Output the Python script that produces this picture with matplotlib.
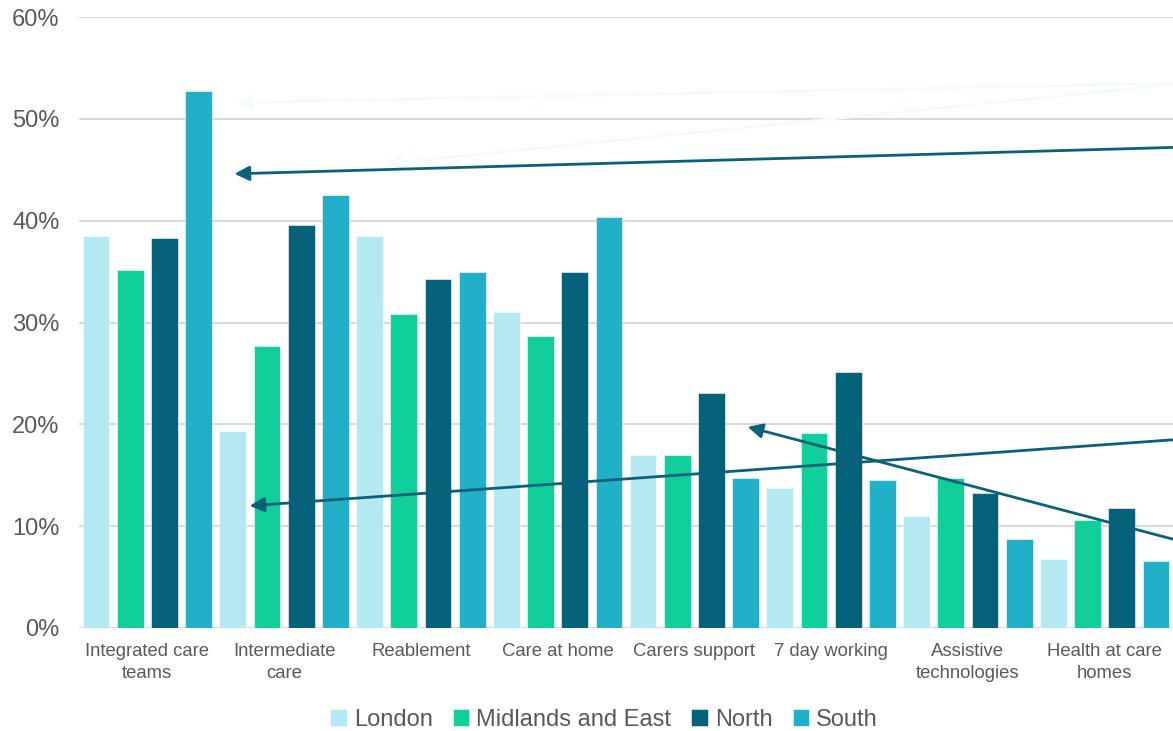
import matplotlib.pyplot as plt
import numpy as np

plt.rcParams['font.family'] = ['Liberation Sans', 'DejaVu Sans']

categories = ["Integrated care\nteams", "Intermediate\ncare", "Reablement", "Care at home",
              "Carers support", "7 day working", "Assistive\ntechnologies", "Health at care\nhomes"]
regions = ["London", "Midlands and East", "North", "South"]
london = [38.5, 19.3, 38.5, 31.0, 17.0, 13.7, 11.0, 6.8]
midlands = [35.2, 27.7, 30.8, 28.7, 17.0, 19.1, 14.7, 10.6]
north = [38.3, 39.6, 34.3, 35.0, 23.1, 25.1, 13.3, 11.8]
south = [52.7, 42.5, 35.0, 40.4, 14.7, 14.5, 8.7, 6.6]
colours = ["#b4e9f2", "#11cf9b", "#06627a", "#22b0c9"]

fig = plt.figure(figsize=(11.73, 7.31), dpi=100)
ax = fig.add_axes([79 / 1173, 1 - 628 / 731, 1 - 79 / 1173, (628 - 17) / 731])

x = np.arange(len(categories))
step = 0.25
for i, (vals, col, name) in enumerate(zip([london, midlands, north, south], colours, regions)):
    ax.bar(x + (i - 1.5) * step, vals, width=0.196, color=col, label=name,
           edgecolor="white", linewidth=0.4, zorder=3)

ax.set_xlim(-0.5, 7.5)
ax.set_ylim(0, 60)
ax.set_yticks(range(0, 61, 10))
ax.set_yticklabels([f"{v}%" for v in range(0, 61, 10)])
ax.set_xticks(x)
ax.set_xticklabels(categories, linespacing=1.35)
ax.grid(axis="y", color="#d9d9d9", linewidth=1.5, zorder=0)
for s in ax.spines.values():
    s.set_visible(False)
ax.tick_params(axis="y", length=0, labelsize=17, labelcolor="#595959", pad=14)
ax.tick_params(axis="x", length=0, labelsize=13.3, labelcolor="#595959", pad=11)

# callout arrows coming in from the right (cut off in the source)
faint = "#f3fbfc"
dark = "#0b6178"
arrows = [
    ((0.652, 51.6), (7.52, 53.5), faint),
    ((1.75, 45.6), (7.52, 53.4), faint),
    ((0.637, 44.6), (7.52, 47.2), dark),
    ((0.747, 12.0), (7.52, 18.5), dark),
    ((4.39, 19.75), (7.52, 8.65), dark),
]
for head, tail, col in arrows:
    ax.annotate("", xy=head, xytext=tail, xycoords="data", textcoords="data",
                arrowprops=dict(arrowstyle="-|>", color=col, lw=2, mutation_scale=22,
                                shrinkA=0, shrinkB=0), zorder=5)

leg = fig.legend(loc="center", bbox_to_anchor=(604 / 1173, 1 - 720 / 731), ncol=4,
                 frameon=False, fontsize=17, handlelength=0.7, handleheight=0.7,
                 handletextpad=0.3, columnspacing=0.85)
for t in leg.get_texts():
    t.set_color("#595959")

fig.savefig("out.png", dpi=100)
